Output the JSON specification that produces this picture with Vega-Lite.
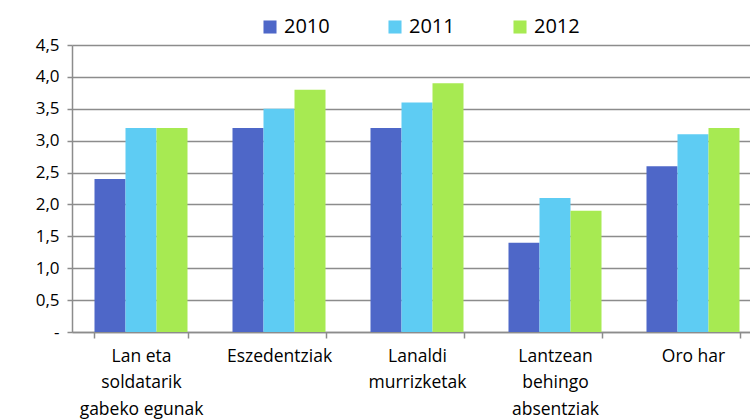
{
  "$schema": "https://vega.github.io/schema/vega-lite/v6.json",
  "autosize": "none",
  "padding": {"left": 72, "top": 45, "right": 0, "bottom": 87},
  "width": 690,
  "height": 287,
  "background": "white",
  "config": {
    "view": {"stroke": null},
    "font": "Open Sans"
  },
  "data": {
    "values": [
      {"cat": "Lan eta soldatarik gabeko egunak", "year": "2010", "value": 2.4},
      {"cat": "Lan eta soldatarik gabeko egunak", "year": "2011", "value": 3.2},
      {"cat": "Lan eta soldatarik gabeko egunak", "year": "2012", "value": 3.2},
      {"cat": "Eszedentziak", "year": "2010", "value": 3.2},
      {"cat": "Eszedentziak", "year": "2011", "value": 3.5},
      {"cat": "Eszedentziak", "year": "2012", "value": 3.8},
      {"cat": "Lanaldi murrizketak", "year": "2010", "value": 3.2},
      {"cat": "Lanaldi murrizketak", "year": "2011", "value": 3.6},
      {"cat": "Lanaldi murrizketak", "year": "2012", "value": 3.9},
      {"cat": "Lantzean behingo absentziak", "year": "2010", "value": 1.4},
      {"cat": "Lantzean behingo absentziak", "year": "2011", "value": 2.1},
      {"cat": "Lantzean behingo absentziak", "year": "2012", "value": 1.9},
      {"cat": "Oro har", "year": "2010", "value": 2.6},
      {"cat": "Oro har", "year": "2011", "value": 3.1},
      {"cat": "Oro har", "year": "2012", "value": 3.2}
    ]
  },
  "mark": {"type": "bar"},
  "encoding": {
    "x": {
      "field": "cat",
      "type": "nominal",
      "sort": null,
      "title": null,
      "scale": {"paddingInner": 0.326, "paddingOuter": 0.163},
      "axis": {
        "labelAngle": 0,
        "labelFont": "Open Sans",
        "labelFontSize": 17.5,
        "labelColor": "#000000",
        "labelPadding": 9,
        "labelLineHeight": 26.5,
        "labelBaseline": "top",
        "tickBand": "extent",
        "tickColor": "#8c8c8c",
        "tickSize": 6,
        "tickWidth": 1.5,
        "domainColor": "#8c8c8c",
        "domainWidth": 1.5,
        "labelExpr": "datum.label == 'Lan eta soldatarik gabeko egunak' ? ['Lan eta','soldatarik','gabeko egunak'] : datum.label == 'Lanaldi murrizketak' ? ['Lanaldi','murrizketak'] : datum.label == 'Lantzean behingo absentziak' ? ['Lantzean','behingo','absentziak'] : datum.label"
      }
    },
    "xOffset": {"field": "year", "type": "nominal"},
    "y": {
      "field": "value",
      "type": "quantitative",
      "title": null,
      "scale": {"domain": [0, 4.5], "nice": false},
      "axis": {
        "values": [0, 0.5, 1, 1.5, 2, 2.5, 3, 3.5, 4, 4.5],
        "labelExpr": "datum.value == 0 ? '-' : replace(format(datum.value, '.1f'), '.', ',')",
        "labelFont": "Open Sans",
        "labelFontSize": 17,
        "labelColor": "#000000",
        "labelPadding": 8,
        "tickColor": "#8c8c8c",
        "tickSize": 5,
        "tickWidth": 1.5,
        "domainColor": "#8c8c8c",
        "domainWidth": 1.5,
        "gridColor": "#8c8c8c",
        "gridWidth": 1.5
      }
    },
    "color": {
      "field": "year",
      "type": "nominal",
      "title": null,
      "scale": {"domain": ["2010", "2011", "2012"], "range": ["#4E67C8", "#5ECCF3", "#A7EA52"]},
      "legend": {
        "orient": "none",
        "legendX": 188,
        "legendY": -28,
        "direction": "horizontal",
        "symbolType": "square",
        "symbolSize": 170,
        "symbolStrokeWidth": 0,
        "labelFont": "Open Sans",
        "labelFontSize": 20,
        "labelColor": "#000000",
        "labelOffset": 4,
        "columnPadding": 55
      }
    }
  }
}
